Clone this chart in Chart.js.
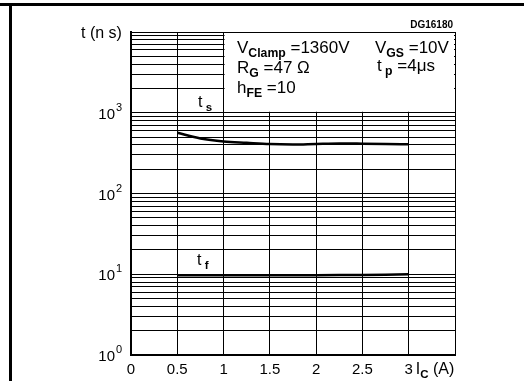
<!DOCTYPE html>
<html>
<head>
<meta charset="utf-8">
<script src="https://cdn.jsdelivr.net/npm/chart.js@4"></script>
<style>
  body { margin: 0; background: #fff; }
  #wrap { position: relative; width: 524px; height: 381px; }
  #topLine { position: absolute; left: 0; top: 3px; width: 524px; height: 3px; background: #000; }
  #sideLine { position: absolute; left: 9px; top: 3px; width: 3px; height: 378px; background: #000; }
  canvas { position: absolute; left: 0; top: 0; }
</style>
</head>
<body>
<div id="wrap">
  <canvas id="chart" width="524" height="381"></canvas>
  <div id="topLine"></div>
  <div id="sideLine"></div>
</div>
<script>
// storage time t_s and fall time t_f vs collector current
const tsCurrents = [0.5, 0.75, 1, 1.25, 1.5, 1.75, 2, 2.25, 2.5, 2.75, 3];
const tsValues = [564, 481, 441, 424, 409, 405, 411, 416, 414, 411, 406];
const tfCurrents = [0.5, 1, 1.5, 2, 2.5, 3];
const tfValues = [9.75, 9.75, 9.75, 9.75, 9.8, 10.0];

const xTicks = [0, 0.5, 1, 1.5, 2, 2.5, 3];
const xTickLabels = ['0', '0.5', '1', '1.5', '2', '2.5', '3'];
const yDecades = [0, 1, 2, 3];
const yMinor = [1, 2, 3, 4, 5, 6, 7, 8, 9];

const FONT = '"Liberation Sans", Arial, sans-serif';

// draws text pieces with sub/superscripts, returns end x
function drawParts(ctx, x, y, parts, size) {
  ctx.textBaseline = 'alphabetic';
  ctx.textAlign = 'left';
  for (const p of parts) {
    let fs = size, dy = 0, weight = '';
    if (p[1] == 'sub') { fs = size * 0.72; dy = size * 0.22; weight = 'bold '; }
    if (p[1] == 'sup') { fs = size * 0.72; dy = -size * 0.45; }
    ctx.font = weight + fs + 'px ' + FONT;
    ctx.fillText(p[0], x, y + dy);
    x += ctx.measureText(p[0]).width;
  }
  return x;
}

const decorPlugin = {
  id: 'decor',
  beforeDatasetsDraw(chart) {
    const ctx = chart.ctx;
    const xs = chart.scales.x, ys = chart.scales.y;
    // blank box for the test conditions
    const l = xs.getPixelForValue(1), r = xs.getPixelForValue(3.5);
    const t = ys.getPixelForValue(10000), b = ys.getPixelForValue(1000);
    ctx.save();
    ctx.fillStyle = '#fff';
    ctx.fillRect(l + 1, t + 1, r - l - 2, b - t - 2);
    ctx.restore();
  },
  afterDraw(chart) {
    const ctx = chart.ctx;
    const xs = chart.scales.x, ys = chart.scales.y;
    ctx.save();
    ctx.fillStyle = '#000';

    // x tick labels
    ctx.font = '15px ' + FONT;
    ctx.textAlign = 'center';
    ctx.textBaseline = 'alphabetic';
    xTicks.forEach((v, i) => {
      ctx.fillText(xTickLabels[i], xs.getPixelForValue(v), chart.chartArea.bottom + 19);
    });
    drawParts(ctx, xs.getPixelForValue(3) + 7, chart.chartArea.bottom + 19,
      [['I', 'n'], ['C', 'sub'], [' (A)', 'n']], 16);

    // y tick labels 10^n
    for (let e = 0; e <= 3; e++) {
      const y = ys.getPixelForValue(Math.pow(10, e));
      ctx.font = '15px ' + FONT;
      ctx.textAlign = 'right';
      ctx.fillText('10', chart.chartArea.left - 16, y + 6);
      ctx.textAlign = 'left';
      ctx.font = '11px ' + FONT;
      ctx.fillText(String(e), chart.chartArea.left - 15, y - 2);
    }

    // axis title
    ctx.font = '16px ' + FONT;
    ctx.textAlign = 'left';
    ctx.fillText('t (n s)', 81, 38);

    ctx.font = 'bold 10px ' + FONT;
    ctx.textAlign = 'right';
    ctx.fillText('DG16180', chart.chartArea.right - 2, 28);

    // conditions
    drawParts(ctx, 237, 53, [['V', 'n'], ['Clamp', 'sub'], [' =1360V', 'n']], 17);
    drawParts(ctx, 237, 73, [['R', 'n'], ['G', 'sub'], [' =47 \u03A9', 'n']], 17);
    drawParts(ctx, 237, 93, [['h', 'n'], ['FE', 'sub'], [' =10', 'n']], 17);
    drawParts(ctx, 375, 53, [['V', 'n'], ['GS', 'sub'], [' =10V', 'n']], 17);
    drawParts(ctx, 377, 71, [['t', 'n'], [' p', 'sub'], [' =4\u03BCs', 'n']], 17);

    // curve labels
    drawParts(ctx, 198, 107, [['t', 'n'], [' s', 'sub']], 16);
    drawParts(ctx, 197, 265, [['t', 'n'], [' f', 'sub']], 16);

    ctx.restore();
  }
};

const ctx = document.getElementById('chart').getContext('2d');
new Chart(ctx, {
  type: 'line',
  data: {
    datasets: [{
      label: 't_s',
      data: tsCurrents.map((c, i) => ({ x: c, y: tsValues[i] })),
      borderColor: '#000',
      borderWidth: 2.5,
      pointRadius: 0,
      tension: 0.4,
      cubicInterpolationMode: 'monotone'
    }, {
      label: 't_f',
      data: tfCurrents.map((c, i) => ({ x: c, y: tfValues[i] })),
      borderColor: '#000',
      borderWidth: 2.5,
      pointRadius: 0,
      tension: 0.4
    }]
  },
  options: {
    responsive: false,
    animation: false,
    layout: { padding: { left: 131, right: 69, top: 32, bottom: 26 } },
    plugins: { legend: { display: false }, tooltip: { enabled: false } },
    scales: {
      x: {
        type: 'linear',
        min: 0,
        max: 3.5,
        ticks: { display: false, stepSize: 0.5 },
        grid: { color: '#000', lineWidth: 1, drawTicks: false },
        border: { color: '#000', width: 2 }
      },
      y: {
        type: 'logarithmic',
        min: 1,
        max: 10000,
        afterBuildTicks: (scale) => {
          const ticks = [];
          yDecades.forEach(d => yMinor.forEach(m => ticks.push({ value: m * Math.pow(10, d) })));
          ticks.push({ value: 10000 });
          scale.ticks = ticks;
        },
        ticks: { display: false },
        grid: { color: '#000', lineWidth: 1, drawTicks: false },
        border: { color: '#000', width: 2 }
      }
    }
  },
  plugins: [decorPlugin]
});
</script>
</body>
</html>
